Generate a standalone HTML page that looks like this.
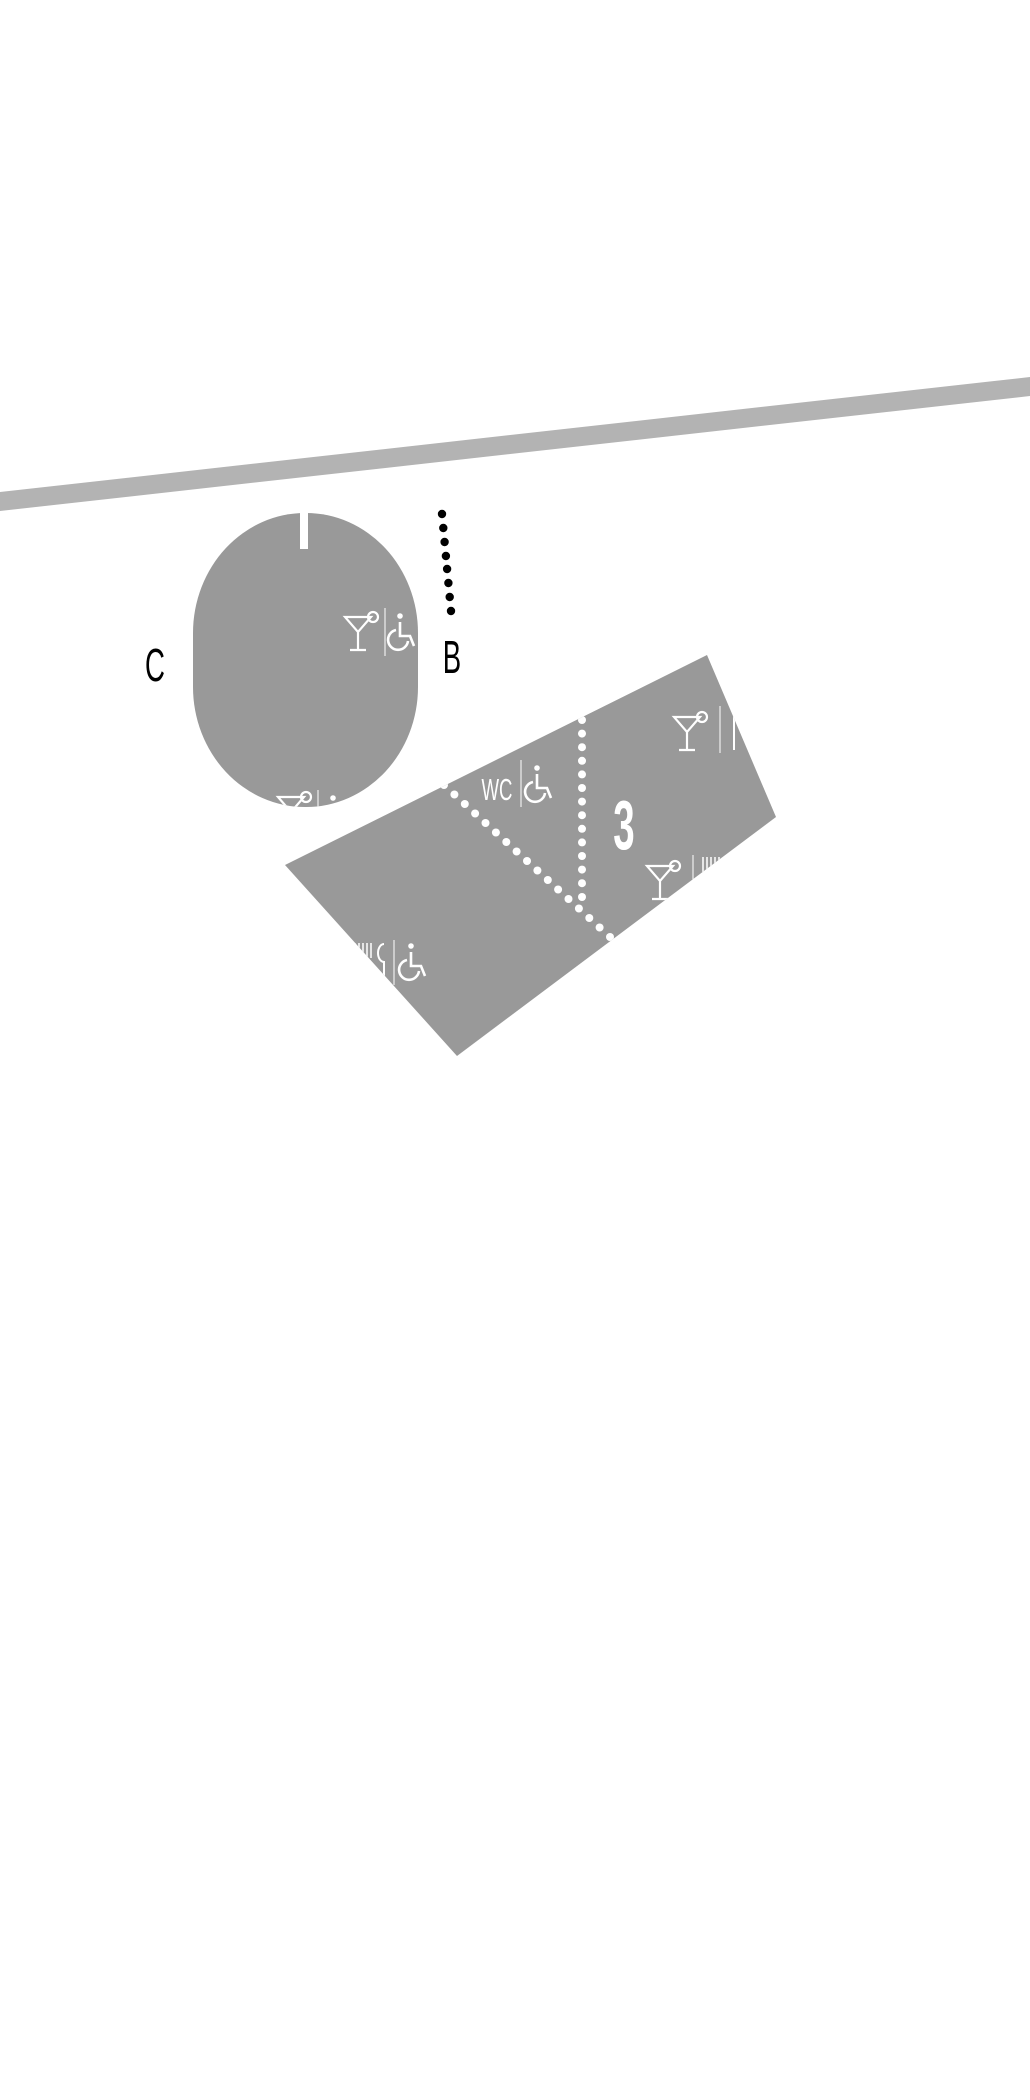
<!DOCTYPE html>
<html><head><meta charset="utf-8"><style>
html,body{margin:0;padding:0;background:#fff;width:1030px;height:2100px;overflow:hidden}
svg{display:block}
text{font-family:"Liberation Sans",sans-serif}
</style></head><body>
<svg width="1030" height="2100" viewBox="0 0 1030 2100" xmlns="http://www.w3.org/2000/svg">
<defs>
<g id="cock" fill="none" stroke="#fff" stroke-width="2.2">
<path d="M0 0 H26 L13 15 Z M13 15 V32 M5 33 H21"/>
<circle cx="28" cy="0" r="5"/>
</g>
<g id="wc" fill="none" stroke="#fff" stroke-width="2.6">
<circle cx="10" cy="2" r="1.5" fill="#fff"/>
<path d="M10 8 V22 H20 L24 32"/>
<path d="M6 16 A10 10 0 1 0 18 27"/>
</g>
<clipPath id="ov"><rect x="193" y="513" width="225" height="294" rx="112" ry="120"/></clipPath>
<clipPath id="pg"><polygon points="285,865 707,655 776,817 457,1056"/></clipPath>
</defs>
<polygon points="0,492 1030,377 1030,396 0,511" fill="#b3b3b3"/>
<rect x="193" y="513" width="225" height="294" rx="112" ry="120" fill="#999"/>
<rect x="300" y="510" width="8" height="39" fill="#fff"/>
<g clip-path="url(#ov)">
<use href="#cock" x="345" y="617"/>
<line x1="385" y1="608" x2="385" y2="656" stroke="#fff" stroke-width="1"/>
<use href="#wc" x="390" y="614"/>
<use href="#cock" x="278" y="797"/>
<line x1="318" y1="790" x2="318" y2="820" stroke="#fff" stroke-width="1"/>
<use href="#wc" x="323" y="796"/>
</g>
<g fill="#000">
<circle cx="442" cy="514" r="4.2"/><circle cx="443.3" cy="528" r="4.2"/><circle cx="444.6" cy="542" r="4.2"/><circle cx="445.9" cy="556" r="4.2"/><circle cx="447.1" cy="569" r="4.2"/><circle cx="448.4" cy="583" r="4.2"/><circle cx="449.7" cy="597" r="4.2"/><circle cx="451" cy="611" r="4.2"/>
</g>
<text x="155" y="681" font-size="46" text-anchor="middle" transform="translate(155 0) scale(0.6 1) translate(-155 0)">C</text>
<text x="452" y="673" font-size="46" text-anchor="middle" transform="translate(452 0) scale(0.6 1) translate(-452 0)">B</text>
<polygon points="285,865 707,655 776,817 457,1056" fill="#999"/>
<g clip-path="url(#pg)">
<g fill="#fff">
<circle cx="582" cy="720" r="4"/><circle cx="582" cy="733.6" r="4"/><circle cx="582" cy="747.2" r="4"/><circle cx="582" cy="760.8" r="4"/><circle cx="582" cy="774.4" r="4"/><circle cx="582" cy="788" r="4"/><circle cx="582" cy="801.6" r="4"/><circle cx="582" cy="815.2" r="4"/><circle cx="582" cy="828.8" r="4"/><circle cx="582" cy="842.4" r="4"/><circle cx="582" cy="856" r="4"/><circle cx="582" cy="869.6" r="4"/><circle cx="582" cy="883.2" r="4"/><circle cx="582" cy="897" r="4"/>
<circle cx="444" cy="785" r="4"/><circle cx="454.4" cy="794.5" r="4"/><circle cx="464.8" cy="804" r="4"/><circle cx="475.1" cy="813.5" r="4"/><circle cx="485.5" cy="823" r="4"/><circle cx="495.9" cy="832.5" r="4"/><circle cx="506.3" cy="842" r="4"/><circle cx="516.6" cy="851.5" r="4"/><circle cx="527" cy="861" r="4"/><circle cx="537.4" cy="870.5" r="4"/><circle cx="547.8" cy="880" r="4"/><circle cx="558.1" cy="889.5" r="4"/><circle cx="568.5" cy="899" r="4"/><circle cx="578.9" cy="908.5" r="4"/><circle cx="589.3" cy="918" r="4"/><circle cx="599.6" cy="927.5" r="4"/><circle cx="610" cy="937" r="4"/>
</g>
<text x="624" y="849" font-size="70" font-weight="bold" fill="#fff" text-anchor="middle" transform="translate(624 0) scale(0.55 1) translate(-624 0)">3</text>
<text x="497" y="800" font-size="31" fill="#fff" text-anchor="middle" transform="translate(497 0) scale(0.6 1) translate(-497 0)">WC</text>
<line x1="521" y1="760" x2="521" y2="807" stroke="#fff" stroke-width="1"/>
<use href="#wc" x="527" y="766"/>
<use href="#cock" x="674" y="717"/>
<line x1="720" y1="706" x2="720" y2="753" stroke="#fff" stroke-width="1"/>
<path d="M734 708 V750 M739 708 V722" stroke="#fff" stroke-width="2"/>
<use href="#cock" x="647" y="866"/>
<line x1="693" y1="855" x2="693" y2="902" stroke="#fff" stroke-width="1"/>
<path d="M703 857 V872 M707 857 V872 M711 857 V872 M715 857 V872 M719 857 V872" stroke="#fff" stroke-width="1.5"/>
<path d="M355 943 V958 M359 943 V958 M363 943 V958 M367 943 V958 M371 943 V958" stroke="#fff" stroke-width="1.5"/>
<path d="M384 944 A6 9 0 0 0 384 962 V985" fill="none" stroke="#fff" stroke-width="2"/>
<line x1="394" y1="940" x2="394" y2="985" stroke="#fff" stroke-width="1"/>
<use href="#wc" x="401" y="944"/>
</g>
</svg>
</body></html>
